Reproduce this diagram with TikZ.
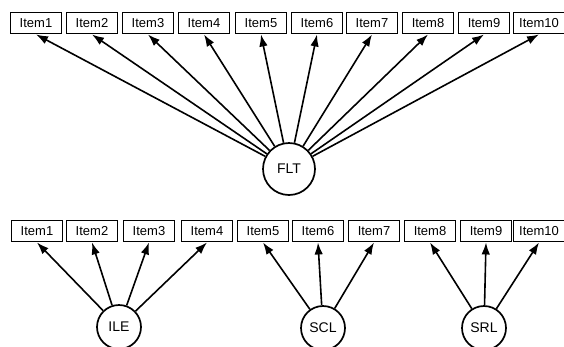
\documentclass[tikz,border=0pt]{standalone}
\usepackage{fontspec}
\setmainfont{Liberation Sans}
\usetikzlibrary{arrows.meta}
\begin{document}
\begin{tikzpicture}[x=1pt,y=-1pt,
  item/.style={draw, line width=1.9pt, minimum width=51pt, minimum height=21pt, inner sep=1pt, font=\fontsize{13}{14}\selectfont},
  lat/.style={draw, circle, line width=1.7pt, inner sep=0pt, font=\fontsize{14}{15}\selectfont},
  arr/.style={line width=1.6pt, -{Latex[length=12pt,width=8.5pt]}}]
\useasboundingbox (0,0) rectangle (564,346);
% top row
\foreach \i/\x in {1/36,2/92,3/148,4/204,5/261,6/317,7/372,8/428,9/484,10/539}{
  \node[item] (t\i) at (\x,23) {Item\i};
}
% bottom row
\foreach \i/\x in {1/37,2/92,3/149,4/207,5/263,6/318,7/374,8/430,9/486,10/539}{
  \node[item] (b\i) at (\x,231) {Item\i};
}
\node[lat, minimum size=52pt] (flt) at (289,169) {FLT};
\node[lat, minimum size=44pt] (ile) at (119,327) {ILE};
\node[lat, minimum size=44pt] (scl) at (323,328) {SCL};
\node[lat, minimum size=44pt] (srl) at (484,328) {SRL};
\foreach \i in {1,...,10}{
  \draw[arr] (flt) -- (t\i.south);
}
\foreach \i in {1,...,4}{\draw[arr] (ile) -- (b\i.south);}
\foreach \i in {5,6,7}{\draw[arr] (scl) -- (b\i.south);}
\foreach \i in {8,9,10}{\draw[arr] (srl) -- (b\i.south);}
\end{tikzpicture}
\end{document}
